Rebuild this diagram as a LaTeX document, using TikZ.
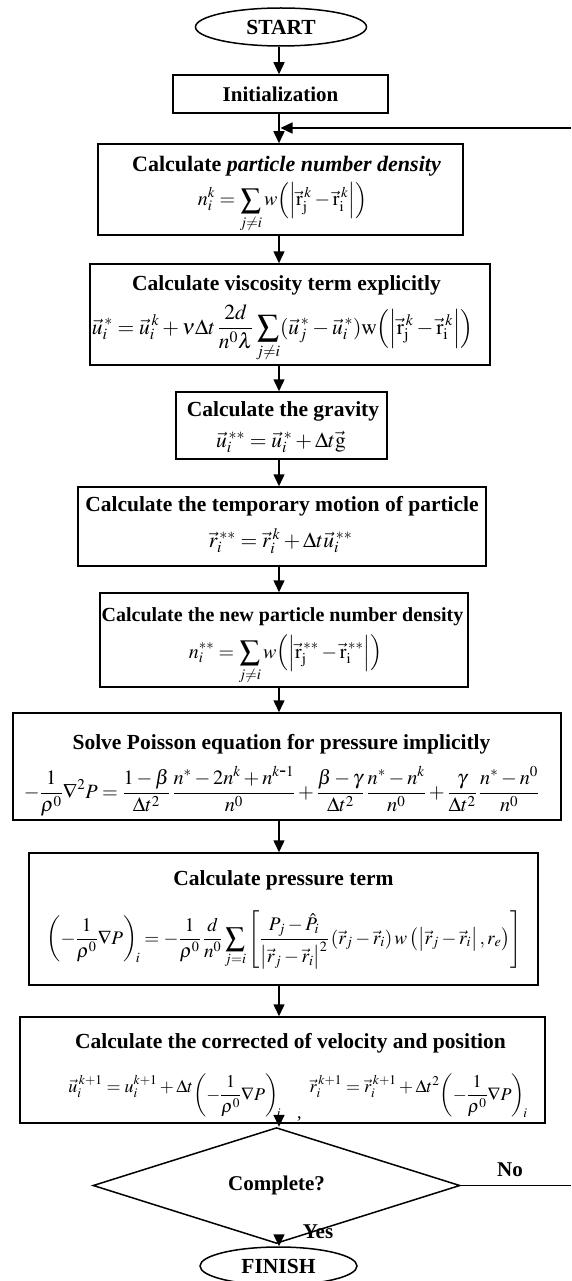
\documentclass[tikz,border=0pt]{standalone}
\usepackage{mathptmx}
\usepackage{fontspec}
\setmainfont{Liberation Serif}
\usetikzlibrary{arrows.meta,shapes.geometric,calc}
\newcommand{\fs}[1]{\fontsize{#1}{#1}\selectfont}
\begin{document}
\begin{tikzpicture}[x=1pt,y=1pt,
  box/.style={draw,line width=1.5pt,rectangle,inner sep=0pt},
  ttl/.style={anchor=base,inner sep=0pt,font=\fs{21.5}\bfseries},
  fml/.style={anchor=base,inner sep=0pt},
  term/.style={draw,line width=1.5pt,ellipse,inner sep=0pt,font=\fs{21.5}\bfseries},
  dec/.style={draw,line width=1.5pt,diamond,inner sep=0pt,font=\fs{21}\bfseries},
  arr/.style={line width=1.5pt,-{Triangle[length=12pt,width=11pt]}},
  ln/.style={line width=1.5pt},
  lbl/.style={font=\fs{21}\bfseries,inner sep=0pt}]
\useasboundingbox (0,0) rectangle (571,-1281);
\coordinate (col) at (279,0);

\node[term,minimum width=171,minimum height=38] (start) at (281,-27) {START};
\node[box,font=\fs{21}\bfseries,minimum width=215,minimum height=38] (init) at (280.5,-94) {Initialization};

% box 1
\node[box,minimum width=365,minimum height=91] (b1) at (280.5,-189.5) {};
\node[ttl,font=\fs{22}\bfseries] (t1) at (286.5,-172) {Calculate \textit{particle number density}};
\node[fml,font=\fs{20}] (f1) at (282.5,-206)
 {$\displaystyle n_i^k=\sum_{j\ne i} w\Bigl(\Bigl|\vec{\mathrm r}_{\mathrm j}^{\,k}-\vec{\mathrm r}_{\mathrm i}^{\,k}\Bigr|\Bigr)$};

% box 2
\node[box,minimum width=400,minimum height=101] (b2) at (290,-314.5) {};
\node[ttl] (t2) at (286.5,-290) {Calculate viscosity term explicitly};
\node[fml,font=\fs{21.5}] (f2) at (282.5,-334)
 {$\displaystyle \vec u_i^{\,*}=\vec u_i^{\,k}+\nu\Delta t\,\frac{2d}{n^0\lambda}\sum_{j\ne i}(\vec u_j^{\,*}-\vec u_i^{\,*})\mathrm{w}\Bigl(\Bigl|\vec{\mathrm r}_{\mathrm j}^{\,k}-\vec{\mathrm r}_{\mathrm i}^{\,k}\Bigr|\Bigr)$};

% box 3
\node[box,minimum width=211,minimum height=67] (b3) at (281.5,-425.5) {};
\node[ttl] (t3) at (283,-416) {Calculate the gravity};
\node[fml,font=\fs{21.5}] (f3) at (281,-447) {$\vec u_i^{\,**}=\vec u_i^{\,*}+\Delta t\vec{\mathrm g}$};

% box 4
\node[box,minimum width=408,minimum height=79] (b4) at (282,-526.5) {};
\node[ttl] (t4) at (282,-511) {Calculate the temporary motion of particle};
\node[fml,font=\fs{21.5}] (f4) at (280.5,-547) {$\vec r_i^{\,**}=\vec r_i^{\,k}+\Delta t\vec u_i^{\,**}$};

% box 5
\node[box,minimum width=368,minimum height=94] (b5) at (284,-640) {};
\node[ttl,font=\fs{20}\bfseries] (t5) at (282.5,-621) {Calculate the new particle number density};
\node[fml,font=\fs{20}] (f5) at (285.5,-658)
 {$\displaystyle n_i^{**}=\sum_{j\ne i} w\Bigl(\Bigl|\vec{\mathrm r}_{\mathrm j}^{\,**}-\vec{\mathrm r}_{\mathrm i}^{\,**}\Bigr|\Bigr)$};

% box 6
\node[box,minimum width=548,minimum height=107] (b6) at (287,-766.5) {};
\node[ttl] (t6) at (281.5,-749) {Solve Poisson equation for pressure implicitly};
\node[fml,font=\fs{20.3}] (f6) at (281.5,-798)
 {$\displaystyle -\frac{1}{\rho^0}\nabla^2P=\frac{1-\beta}{\Delta t^2}\,\frac{n^*-2n^k+n^{k\mbox{-}1}}{n^0}+\frac{\beta-\gamma}{\Delta t^2}\,\frac{n^*-n^k}{n^0}+\frac{\gamma}{\Delta t^2}\,\frac{n^*-n^0}{n^0}$};

% box 7
\node[box,minimum width=509,minimum height=132] (b7) at (283.5,-919) {};
\node[ttl] (t7) at (283.5,-885) {Calculate pressure term};
\node[fml,font=\fs{19.2}] (f7) at (284,-944)
 {$\displaystyle \left(-\frac{1}{\rho^0}\nabla P\right)_{\!i}=-\frac{1}{\rho^0}\,\frac{d}{n^0}\sum_{j=i}\left[\frac{P_j-\hat P_i}{\left|\vec r_j-\vec r_i\right|^2}\left(\vec r_j-\vec r_i\right)w\left(\left|\vec r_j-\vec r_i\right|,r_e\right)\right]$};

% box 8
\node[box,minimum width=525,minimum height=106] (b8) at (282.5,-1070) {};
\node[ttl] (t8) at (290.5,-1048) {Calculate the corrected of velocity and position};
\node[fml,font=\fs{18}] (f8) at (298,-1092)
 {$\vec u_i^{\,k+1}=u_i^{k+1}+\Delta t\raisebox{-8pt}{$\displaystyle\left(-\frac{1}{\rho^0}\nabla P\right)_{\!i}$}\hspace{16pt}\raisebox{-26pt}{,}\hspace{8pt}\vec r_i^{\,k+1}=\vec r_i^{\,k+1}+\Delta t^2\raisebox{-8pt}{$\displaystyle\left(-\frac{1}{\rho^0}\nabla P\right)_{\!i}$}$};

\node[dec,minimum width=367,minimum height=65] (dia) at (276.5,-1185.5) {Complete?};
\node[term,minimum width=157,minimum height=38] (fin) at (278.5,-1266) {FINISH};

\draw[arr] (start.south -| col) -- (init.north -| col);
\draw[arr] (init.south -| col) -- (b1.north -| col);
\draw[arr] (b1.south -| col) -- (b2.north -| col);
\draw[arr] (b2.south -| col) -- (b3.north -| col);
\draw[arr] (b3.south -| col) -- (b4.north -| col);
\draw[arr] (b4.south -| col) -- (b5.north -| col);
\draw[arr] (b5.south -| col) -- (b6.north -| col);
\draw[arr] (b6.south -| col) -- (b7.north -| col);
\draw[arr] (b7.south -| col) -- (b8.north -| col);
\draw[arr] (b8.south -| col) -- (dia.north -| col);
\draw[arr] (dia.south -| col) -- (fin.north -| col);

\coordinate (noend) at (571,-1185.5);
\draw[ln] (dia.east) -- (noend);
\coordinate (loopstart) at (571,-128);
\coordinate (loopin) at (280.5,-128);
\draw[arr] (loopstart) -- (loopin);

\node[lbl] (no) at (510,-1170) {No};
\node[lbl] (yes) at (318,-1232) {Yes};
\end{tikzpicture}
\end{document}
